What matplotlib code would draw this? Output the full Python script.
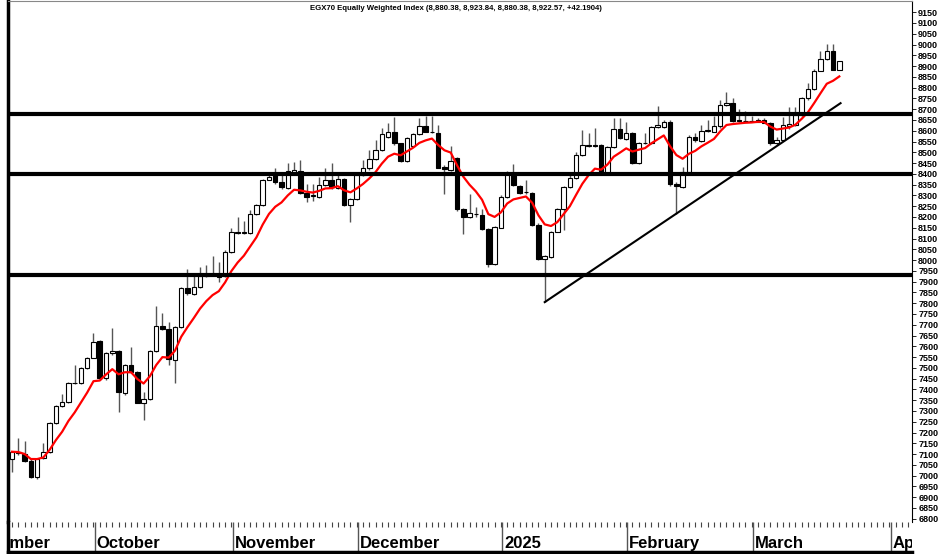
import numpy as np
import pandas as pd
import matplotlib
matplotlib.use("Agg")
import matplotlib.pyplot as plt

# EGX70 EWI daily candles, mid Sep 2024 -> Mar 2025
opens = [7076, 7110, 7100, 7070, 6992, 7080, 7111, 7243, 7323, 7340,
         7428, 7431, 7498, 7548, 7625, 7452, 7568, 7580, 7382, 7513,
         7479, 7336, 7354, 7580, 7694, 7679, 7537, 7691, 7872, 7841,
         7874, 7928, 7930, 7935, 7925, 8039, 8130, 8125, 8124, 8213,
         8254, 8372, 8395, 8364, 8333, 8405, 8414, 8310, 8296, 8291,
         8349, 8372, 8333, 8375, 8256, 8282, 8395, 8426, 8468, 8511,
         8570, 8596, 8542, 8460, 8530, 8584, 8622, 8596, 8588, 8432,
         8418, 8472, 8236, 8199, 8215, 8210, 8143, 7982, 8151, 8295,
         8406, 8344, 8315, 8310, 8163, 8004, 8016, 8132, 8238, 8340,
         8380, 8488, 8530, 8534, 8534, 8403, 8526, 8607, 8560, 8591,
         8452, 8542, 8545, 8619, 8619, 8642, 8353, 8341, 8410, 8573,
         8554, 8598, 8596, 8620, 8720, 8731, 8650, 8645, 8645, 8642,
         8652, 8635, 8542, 8557, 8620, 8627, 8674, 8751, 8793, 8879,
         8932, 8972, 8880.38]
highs = [7115, 7173, 7160, 7075, 7080, 7150, 7250, 7330, 7380, 7435,
         7513, 7505, 7552, 7660, 7630, 7572, 7683, 7585, 7520, 7595,
         7485, 7390, 7585, 7789, 7756, 7715, 7695, 7875, 7957, 7930,
         7970, 7978, 8019, 7990, 8045, 8148, 8199, 8180, 8233, 8260,
         8375, 8395, 8426, 8410, 8452, 8457, 8465, 8355, 8355, 8387,
         8426, 8449, 8403, 8380, 8290, 8400, 8465, 8511, 8557, 8611,
         8638, 8666, 8545, 8570, 8590, 8660, 8669, 8669, 8627, 8440,
         8530, 8480, 8240, 8307, 8245, 8235, 8150, 8160, 8300, 8412,
         8446, 8350, 8372, 8315, 8170, 8025, 8135, 8240, 8345, 8405,
         8500, 8604, 8588, 8611, 8540, 8530, 8658, 8658, 8642, 8595,
         8548, 8590, 8623, 8715, 8650, 8650, 8360, 8430, 8580, 8590,
         8627, 8650, 8668, 8743, 8782, 8750, 8700, 8690, 8670, 8660,
         8660, 8640, 8570, 8665, 8709, 8709, 8755, 8820, 8885, 8972,
         9003, 9003, 8923.84]
lows = [7018, 7095, 7065, 6990, 6985, 7075, 7105, 7240, 7318, 7335,
        7425, 7425, 7495, 7545, 7445, 7445, 7560, 7297, 7375, 7475,
        7335, 7258, 7350, 7575, 7675, 7513, 7428, 7685, 7838, 7838,
        7870, 7922, 7925, 7900, 7920, 8035, 8120, 8120, 8120, 8210,
        8250, 8370, 8355, 8332, 8330, 8400, 8305, 8271, 8275, 8288,
        8345, 8330, 8328, 8250, 8178, 8278, 8390, 8420, 8465, 8505,
        8565, 8535, 8457, 8455, 8525, 8580, 8592, 8588, 8425, 8307,
        8412, 8230, 8121, 8195, 8200, 8138, 7970, 7978, 8148, 8290,
        8345, 8308, 8305, 8158, 8000, 7805, 8010, 8129, 8140, 8335,
        8375, 8485, 8525, 8525, 8398, 8398, 8520, 8560, 8555, 8445,
        8448, 8538, 8540, 8615, 8615, 8345, 8215, 8335, 8405, 8550,
        8550, 8595, 8592, 8615, 8715, 8640, 8640, 8640, 8640, 8640,
        8635, 8535, 8535, 8552, 8610, 8622, 8670, 8745, 8790, 8875,
        8928, 8880, 8880.38]
closes = [7111, 7104, 7070, 6995, 7076, 7111, 7243, 7323, 7340, 7428,
          7432, 7501, 7548, 7622, 7452, 7568, 7580, 7387, 7513, 7479,
          7339, 7354, 7580, 7694, 7679, 7540, 7691, 7872, 7846, 7877,
          7928, 7932, 7935, 7920, 8039, 8132, 8128, 8132, 8213, 8254,
          8372, 8387, 8364, 8338, 8414, 8418, 8313, 8295, 8300, 8349,
          8372, 8338, 8375, 8256, 8282, 8395, 8426, 8468, 8511, 8585,
          8593, 8542, 8460, 8565, 8584, 8622, 8596, 8593, 8429, 8424,
          8462, 8236, 8202, 8217, 8212, 8143, 7980, 8155, 8295, 8406,
          8349, 8313, 8318, 8163, 8004, 8019, 8132, 8238, 8340, 8380,
          8488, 8534, 8534, 8530, 8403, 8526, 8607, 8565, 8588, 8452,
          8542, 8545, 8619, 8625, 8642, 8353, 8344, 8410, 8573, 8555,
          8601, 8603, 8624, 8720, 8730, 8647, 8645, 8647, 8643, 8652,
          8638, 8545, 8557, 8627, 8632, 8674, 8751, 8793, 8879, 8932,
          8972, 8880.38, 8922.57]

# support / resistance lines and the rising trendline (bar index, value)
levels = [8680, 8400, 7932]
trend_x = [85, 132.2]
trend_y = [7805, 8728]

# first bar of each month (September starts before the visible window)
month_names = ["September", "October", "November", "December", "2025",
               "February", "March", "April"]
month_first = [-7, 14, 36, 56, 79, 99, 119, 141]

title = ("EGX70 Equally Weighted Index (8,880.38, 8,923.84, 8,880.38, "
         "8,922.57, +42.1904)")

plt.rcParams['font.family'] = ['Liberation Sans', 'DejaVu Sans']

o = np.array(opens, dtype=float)
h = np.array(highs, dtype=float)
l = np.array(lows, dtype=float)
c = np.array(closes, dtype=float)
x = np.arange(len(c))
ma = pd.Series(c).ewm(span=8, adjust=False).mean()

W, H = 939, 554
fig = plt.figure(figsize=(W / 100, H / 100), dpi=100)
ax = fig.add_axes([8 / W, 32 / H, 904 / W, 521 / H])
band = fig.add_axes([8 / W, 2 / H, 904 / W, 30 / H])

xmin, xmax = -0.64, 143.6
ax.set_xlim(xmin, xmax)
ax.set_ylim(6785, 9202)

# candles
ax.vlines(x, l, h, color="#555555", lw=1.0, zorder=2)
up = c >= o
ax.bar(x[up], (c - o)[up], bottom=o[up], width=0.72, color="white",
       edgecolor="black", lw=0.8, zorder=3)
ax.bar(x[~up], (o - c)[~up], bottom=c[~up], width=0.72, color="black",
       edgecolor="black", lw=0.8, zorder=3)

ax.plot(x, ma, color="red", lw=1.6, zorder=4)

for lv in levels:
    ax.axhline(lv, color="black", lw=3, zorder=5)
ax.plot(trend_x, trend_y, color="black", lw=1.5, zorder=5)

# right price scale
ax.yaxis.tick_right()
ax.set_yticks(np.arange(6800, 9151, 50))
ax.tick_params(axis="y", length=3, width=0.6, pad=1.5, labelsize=6.5)
for t in ax.get_yticklabels():
    t.set_fontweight("bold")
ax.set_xticks([])
ax.spines["left"].set_linewidth(2.5)
ax.spines["top"].set_color("#888888")
ax.spines["right"].set_linewidth(0.8)
ax.spines["bottom"].set_visible(False)

fig.text(456 / W, 1 - 9 / H, title, ha="center", va="center",
         fontsize=5.6, fontweight="bold")

# date band
band.set_xlim(xmin, xmax)
band.set_ylim(0, 1)
band.set_yticks([])
band.set_xticks([])
band.vlines(np.arange(0, 144), 0.82, 1.0, color="#444444", lw=0.8)
for name, m in zip(month_names, month_first):
    band.vlines(m - 0.8, 0, 1, color="#555555", lw=1.0)
    band.text(m - 0.5, 0.13, name, fontsize=12, fontweight="bold",
              ha="left", va="baseline", clip_on=True)
band.spines["left"].set_linewidth(2.5)
band.spines["bottom"].set_linewidth(2.5)
band.spines["top"].set_visible(False)
band.spines["right"].set_visible(False)

fig.savefig("out.png", dpi=100)
